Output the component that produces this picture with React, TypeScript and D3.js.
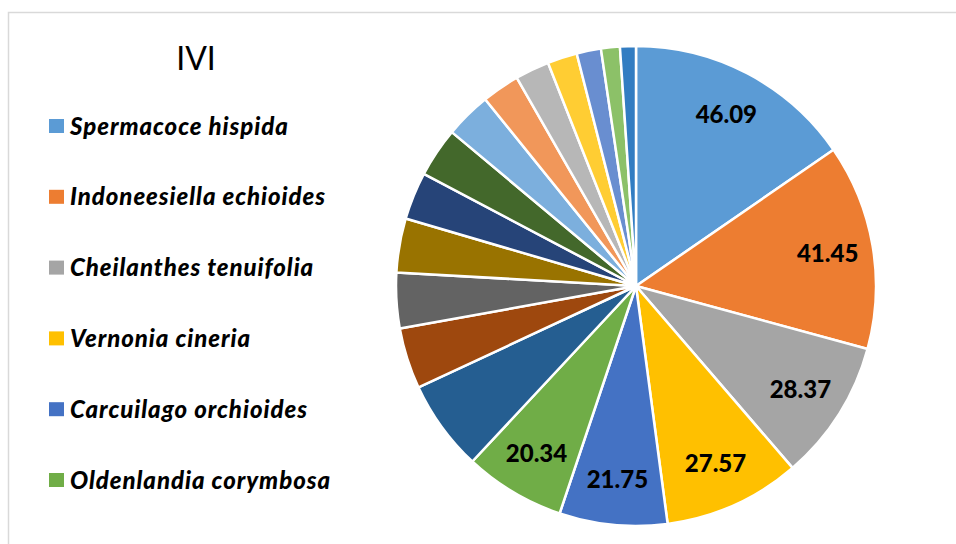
import React from "react";
import * as d3 from "d3";

const species = [
  "Spermacoce hispida",
  "Indoneesiella echioides",
  "Cheilanthes tenuifolia",
  "Vernonia cineria",
  "Carcuilago orchioides",
  "Oldenlandia corymbosa",
  "s7", "s8", "s9", "s10", "s11", "s12", "s13", "s14", "s15", "s16", "s17", "s18", "s19",
];
const ivi = [46.09, 41.45, 28.37, 27.57, 21.75, 20.34, 18.3, 12.3, 11.2, 10.9, 9.6, 10.0, 9.3, 7.6, 6.9, 6.0, 4.9, 3.8, 3.2];
const colors = [
  "#5B9BD5", "#ED7D31", "#A5A5A5", "#FFC000", "#4472C4", "#70AD47",
  "#255E91", "#9E480E", "#636363", "#997300", "#264478", "#43682B",
  "#7CAFDD", "#F1975A", "#B7B7B7", "#FFCD33", "#698ED0", "#8CC168",
  "#327DC2",
];
const labeledCount = 6;
const legendCount = 6;
const title = "IVI";

export default function App() {
  const W = 956, H = 544;
  const cx = 636, cy = 286, R = 240;
  const data = species.map((s, i) => ({ name: s, value: ivi[i], color: colors[i], idx: i }));
  const pie = d3.pie<any>().sort(null).value((d: any) => d.value);
  const arcs = pie(data);
  const arcGen = d3.arc<any>().innerRadius(0).outerRadius(R);
  const labelArc = d3.arc<any>().innerRadius(R * 0.81).outerRadius(R * 0.81);
  const legendY = d3.scaleLinear().domain([0, 5]).range([126, 480]);

  return (
    <svg width={W} height={H} style={{ position: "absolute", left: 0, top: 0, background: "#fff" }}>
      <rect x={0} y={0} width={W} height={H} fill="#fff" />
      <path d={`M8.5,${H} L8.5,12.5 L${W},12.5`} fill="none" stroke="#D9D9D9" strokeWidth={1.5} />
      <text x={196} y={70} textAnchor="middle" fontFamily="Lato, 'Open Sans', sans-serif" fontSize={32} fill="#000">{title}</text>
      <g transform={`translate(${cx},${cy})`}>
        {arcs.map((a, i) => (
          <path key={i} d={arcGen(a) as string} fill={a.data.color} stroke="#fff" strokeWidth={2.5} strokeLinejoin="round" />
        ))}
        {arcs.slice(0, labeledCount).map((a, i) => {
          const [x, y] = labelArc.centroid(a);
          return (
            <text key={i} x={x} y={y} dy="0.36em" textAnchor="middle" fontFamily="Lato, 'Open Sans', sans-serif" fontWeight={900} fontSize={24} fill="#000">
              {a.data.value.toFixed(2)}
            </text>
          );
        })}
      </g>
      {data.slice(0, legendCount).map((d, i) => (
        <g key={i} transform={`translate(0,${legendY(i)})`}>
          <rect x={49} y={-7} width={15} height={14} fill={d.color} />
          <text x={70} y={0} dy="0.36em" fontFamily="Lato, 'Open Sans', sans-serif" fontWeight={900} fontStyle="italic" fontSize={24} letterSpacing={0.95} fill="#000">{d.name}</text>
        </g>
      ))}
    </svg>
  );
}
